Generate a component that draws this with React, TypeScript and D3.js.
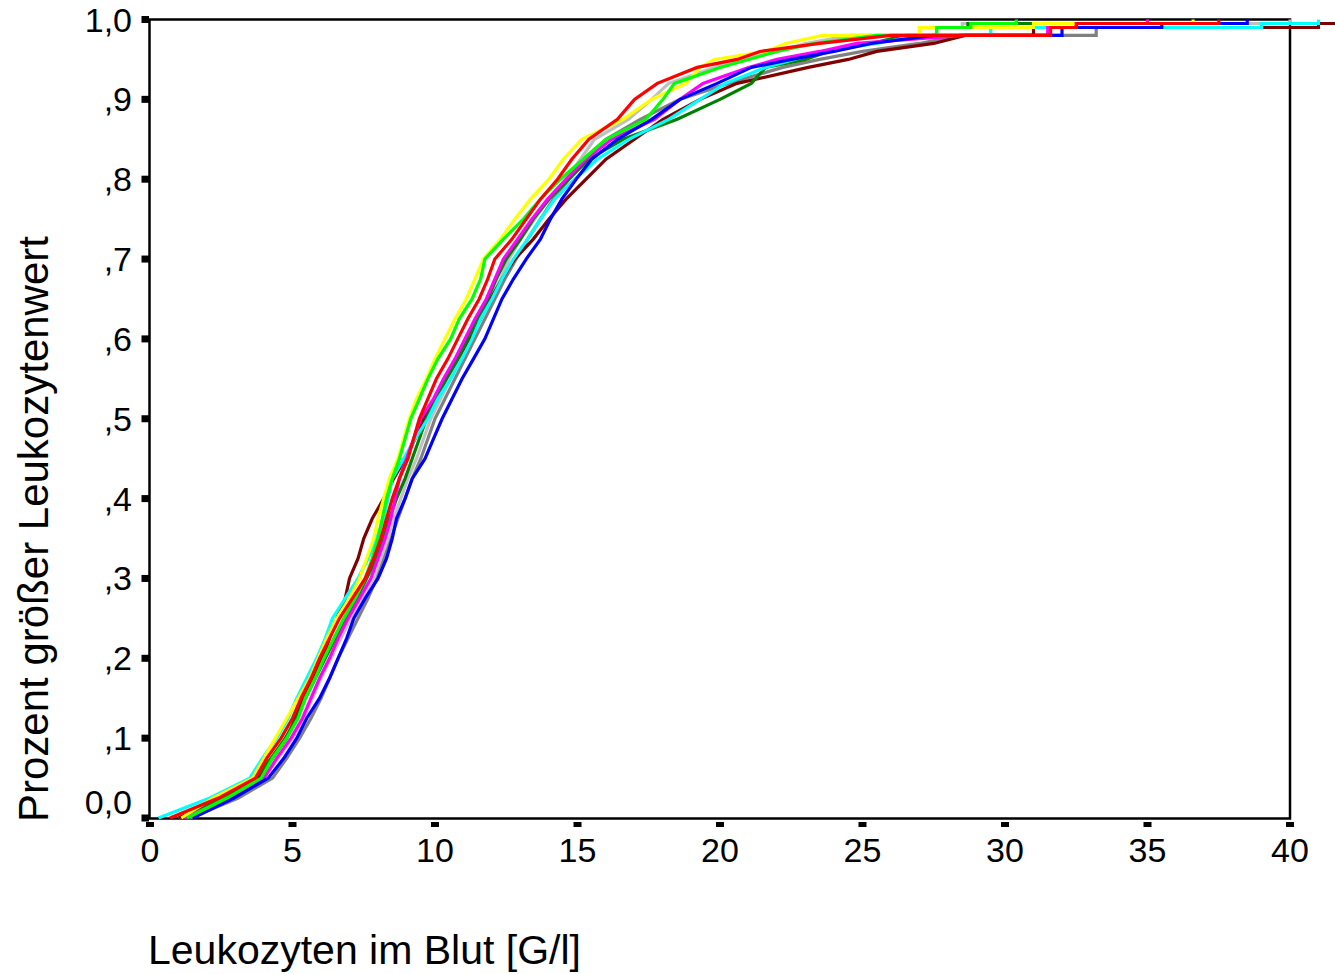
import React from "react";
import * as d3 from "d3";

// cumulative share levels (y) at which each series' x values are read
const levels = [0, 0.025, 0.05, 0.075, 0.1, 0.125, 0.15, 0.175, 0.2, 0.225, 0.25, 0.275, 0.3, 0.325, 0.35, 0.375, 0.4, 0.425, 0.45, 0.475, 0.5, 0.525, 0.55, 0.575, 0.6, 0.625, 0.65, 0.675, 0.7, 0.725, 0.75, 0.775, 0.8, 0.825, 0.85, 0.875, 0.9, 0.92, 0.94, 0.95, 0.96, 0.97, 0.98, 0.99, 0.995, 1];

const darkGray = [1.4, 3.1, 4.3, 4.8, 5.25, 5.65, 6.0, 6.3, 6.6, 6.95, 7.3, 7.65, 7.95, 8.2, 8.45, 8.7, 8.95, 9.2, 9.5, 9.75, 10.0, 10.35, 10.7, 11.05, 11.4, 11.75, 12.1, 12.45, 12.85, 13.25, 13.7, 14.15, 14.7, 15.2, 16.0, 17.2, 18.6, 20.3, 22.2, 23.5, 25.0, 27.0, 28.4, 33.2, 39.0, 46.0];
const lightGray = [1.0, 2.9, 4.0, 4.5, 5.0, 5.4, 5.7, 6.0, 6.35, 6.7, 7.05, 7.45, 7.85, 8.1, 8.35, 8.55, 8.8, 9.05, 9.35, 9.6, 9.85, 10.2, 10.55, 10.9, 11.25, 11.6, 11.95, 12.3, 12.6, 13.0, 13.5, 14.0, 14.6, 15.1, 15.6, 16.8, 17.6, 18.2, 19.8, 20.8, 22.0, 23.0, 24.6, 27.0, 28.5, 40.0];
const maroon = [1.0, 2.6, 3.8, 4.3, 4.8, 5.1, 5.4, 5.75, 6.05, 6.3, 6.55, 6.85, 7.0, 7.3, 7.5, 7.8, 8.2, 8.55, 8.95, 9.3, 9.6, 10.0, 10.4, 10.8, 11.2, 11.6, 11.95, 12.35, 12.8, 13.45, 14.0, 14.6, 15.3, 16.0, 17.0, 18.0, 19.3, 20.6, 23.1, 24.5, 25.5, 27.5, 28.6, 31.0, 41.0, 47.0];
const darkGreen = [1.2, 2.5, 3.7, 4.25, 4.75, 5.15, 5.45, 5.8, 6.15, 6.5, 6.85, 7.25, 7.6, 7.95, 8.2, 8.4, 8.65, 8.95, 9.2, 9.45, 9.7, 10.05, 10.4, 10.8, 11.15, 11.5, 11.85, 12.15, 12.5, 13.0, 13.45, 14.0, 14.7, 15.4, 16.6, 18.5, 20.0, 21.1, 21.6, 23.0, 23.8, 25.3, 26.5, 27.6, 28.7, 35.0];
const cyan = [0.3, 2.1, 3.5, 3.95, 4.45, 4.85, 5.15, 5.5, 5.85, 6.15, 6.4, 6.85, 7.3, 7.65, 7.95, 8.2, 8.35, 8.5, 8.9, 9.3, 9.75, 10.1, 10.55, 10.95, 11.3, 11.6, 12.0, 12.35, 12.75, 13.25, 13.7, 14.2, 14.9, 15.7, 16.8, 18.2, 19.3, 20.2, 21.6, 22.6, 23.6, 25.5, 27.0, 29.5, 39.0, 41.0];
const magenta = [1.2, 2.8, 4.0, 4.45, 4.95, 5.35, 5.65, 5.95, 6.3, 6.6, 6.95, 7.35, 7.75, 8.0, 8.25, 8.45, 8.6, 8.75, 9.0, 9.25, 9.5, 9.95, 10.3, 10.7, 11.05, 11.4, 11.8, 12.1, 12.4, 12.9, 13.4, 13.95, 14.6, 15.3, 16.2, 17.7, 18.6, 19.4, 21.0, 22.0, 23.5, 24.8, 28.5, 31.5, 32.5, 35.0];
const yellow = [1.1, 2.2, 3.6, 4.0, 4.4, 4.8, 5.2, 5.6, 5.9, 6.2, 6.55, 7.0, 7.35, 7.6, 7.85, 8.0, 8.2, 8.4, 8.7, 8.9, 9.1, 9.35, 9.7, 10.0, 10.35, 10.7, 11.1, 11.4, 11.7, 12.3, 12.8, 13.35, 14.0, 14.5, 15.15, 16.6, 17.6, 18.8, 19.3, 19.8, 21.6, 22.3, 23.6, 27.0, 31.0, 36.6];
const blue = [1.5, 2.95, 4.15, 4.7, 5.15, 5.5, 5.95, 6.3, 6.6, 6.9, 7.15, 7.55, 8.0, 8.3, 8.5, 8.65, 8.95, 9.2, 9.65, 9.95, 10.25, 10.6, 10.95, 11.35, 11.75, 12.05, 12.35, 12.75, 13.2, 13.7, 14.05, 14.45, 14.95, 15.5, 16.4, 17.6, 18.6, 19.9, 21.1, 22.5, 24.0, 25.3, 27.5, 32.0, 35.5, 38.5];
const lime = [1.3, 2.7, 3.9, 4.3, 4.8, 5.2, 5.45, 5.8, 6.1, 6.45, 6.8, 7.2, 7.55, 7.8, 8.0, 8.15, 8.3, 8.5, 8.75, 8.95, 9.15, 9.45, 9.75, 10.1, 10.55, 10.85, 11.3, 11.6, 11.75, 12.4, 13.1, 13.7, 14.4, 15.2, 16.0, 17.4, 18.0, 18.4, 20.0, 21.0, 22.0, 23.3, 25.5, 27.6, 28.8, 30.4];
const red = [0.7, 2.4, 3.7, 4.1, 4.6, 5.0, 5.3, 5.65, 5.95, 6.3, 6.65, 7.1, 7.55, 7.85, 8.1, 8.3, 8.5, 8.75, 9.05, 9.25, 9.45, 9.75, 10.05, 10.45, 10.8, 11.15, 11.55, 11.85, 12.1, 12.7, 13.2, 13.7, 14.3, 14.8, 15.4, 16.4, 17.0, 17.8, 19.2, 20.6, 21.4, 23.5, 26.0, 31.6, 32.5, 37.5];

const xTicks = [0, 5, 10, 15, 20, 25, 30, 35, 40];
const xTickLabels = ["0", "5", "10", "15", "20", "25", "30", "35", "40"];
const yTicks = [0, 0.1, 0.2, 0.3, 0.4, 0.5, 0.6, 0.7, 0.8, 0.9, 1.0];
const yTickLabels = ["0,0", ",1", ",2", ",3", ",4", ",5", ",6", ",7", ",8", ",9", "1,0"];

const xTitle = "Leukozyten im Blut [G/l]";
const yTitle = "Prozent größer Leukozytenwert";

const series = [
  { values: darkGray, color: "#808080" },
  { values: lightGray, color: "#c0c0c0" },
  { values: maroon, color: "#800000" },
  { values: darkGreen, color: "#008000" },
  { values: cyan, color: "#00ffff" },
  { values: magenta, color: "#ff00ff" },
  { values: yellow, color: "#ffff00" },
  { values: blue, color: "#0000ff" },
  { values: lime, color: "#00ff00" },
  { values: red, color: "#ff0000" },
];

// index of the level from which the sparse upper tail is drawn as steps
const stepFrom = levels.indexOf(0.98);

export default function App() {
  const W = 1335;
  const H = 974;
  const x = d3.scaleLinear().domain([0, 40]).range([150, 1290]);
  const y = d3.scaleLinear().domain([0, 1]).range([818, 19.5]);
  type P = [number, number];
  const lineLin = d3.line<P>().x((d) => x(d[0])).y((d) => y(d[1])).curve(d3.curveLinear);
  const lineStep = d3.line<P>().x((d) => x(d[0])).y((d) => y(d[1])).curve(d3.curveStepAfter);
  const pathFor = (vals: number[]) => {
    const pts: P[] = vals.map((v, i) => [v, levels[i]]);
    const a = lineLin(pts.slice(0, stepFrom + 1)) || "";
    const b = (lineStep(pts.slice(stepFrom)) || "").replace(/^M/, "L");
    return a + b;
  };
  const font = "Arial, 'Liberation Sans', Helvetica, sans-serif";

  return (
    <svg
      width={W}
      height={H}
      style={{ position: "absolute", left: 0, top: 0, display: "block" }}
      fontFamily={font}
    >
      <rect x={0} y={0} width={W} height={H} fill="#ffffff" />
      {/* frame */}
      <rect
        x={x(0) - 0.5}
        y={y(1)}
        width={x(40) - x(0) + 0.5}
        height={y(0) - y(1) + 0.5}
        fill="none"
        stroke="#000"
        strokeWidth={2.5}
      />
      {/* y ticks */}
      {yTicks.map((t, i) => (
        <g key={"yt" + i}>
          <rect x={141.5} y={y(t) - 3.5} width={7.5} height={7} fill="#000" />
          <text
            x={132}
            y={t === 0 ? y(t) - 4 : y(t) + 12}
            textAnchor="end"
            fontSize={34}
            fill="#000"
          >
            {yTickLabels[i]}
          </text>
        </g>
      ))}
      {/* x ticks */}
      {xTicks.map((t, i) => (
        <g key={"xt" + i}>
          <rect x={x(t) - 4} y={822} width={8} height={5} fill="#000" />
          <text x={x(t)} y={862} textAnchor="middle" fontSize={34} fill="#000">
            {xTickLabels[i]}
          </text>
        </g>
      ))}
      {/* curves */}
      {series.map((s, i) => (
        <path
          key={"s" + i}
          d={pathFor(s.values)}
          fill="none"
          stroke={s.color}
          strokeWidth={3.2}
          strokeLinejoin="miter"
        />
      ))}
      {/* axis titles */}
      <text x={148} y={964} fontSize={41} fill="#000">
        {xTitle}
      </text>
      <text transform="translate(48,822) rotate(-90)" fontSize={42} fill="#000">
        {yTitle}
      </text>
    </svg>
  );
}
